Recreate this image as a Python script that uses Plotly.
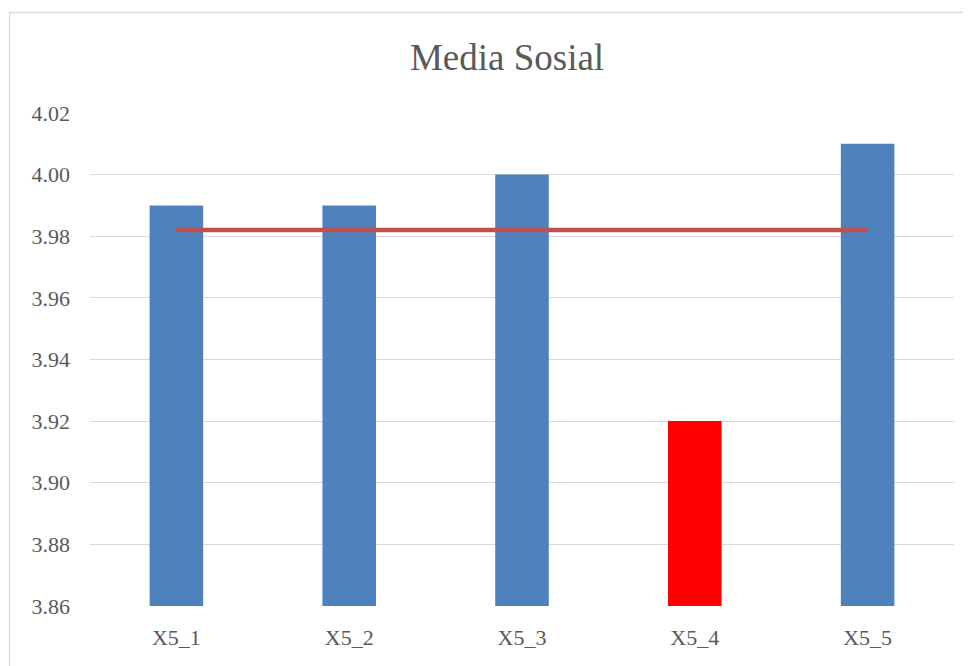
import plotly.graph_objects as go

categories = ["X5_1", "X5_2", "X5_3", "X5_4", "X5_5"]
values = [3.99, 3.99, 4.00, 3.92, 4.01]
bar_colors = ["#4F81BD", "#4F81BD", "#4F81BD", "#FF0000", "#4F81BD"]
mean_value = 3.982
y_ticks = [3.86, 3.88, 3.90, 3.92, 3.94, 3.96, 3.98, 4.00, 4.02]
title_text = "Media Sosial"

FONT = "Liberation Serif"
GRAY = "#595959"

fig = go.Figure()
fig.add_trace(go.Bar(x=categories, y=values, marker=dict(color=bar_colors, line=dict(width=0)),
                     showlegend=False, hoverinfo="x+y"))
fig.add_trace(go.Scatter(x=categories, y=[mean_value] * len(categories), mode="lines",
                         line=dict(color="#C0504D", width=4.5), showlegend=False))

OFF = 8  # page body margin
W, H = 971 - OFF, 666 - OFF
L, R, T, B = 90 - OFF, 17, 113 - OFF, 60
pw, ph = W - L - R, H - T - B

def px_x(px):
    return (px - OFF - L) / pw

def px_y(py):
    return (H - B - (py - OFF)) / ph

fig.update_layout(
    width=W, height=H,
    margin=dict(l=L, r=R, t=T, b=B),
    paper_bgcolor="white", plot_bgcolor="white",
    bargap=0.69,
    font=dict(family=FONT, color=GRAY),
    title=dict(text=title_text, x=(507 - OFF) / W, xanchor="center", y=1 - (57 - OFF) / H, yanchor="middle",
               font=dict(family=FONT, size=37, color=GRAY)),
    xaxis=dict(showgrid=False, showline=False, zeroline=False, ticks="",
               tickfont=dict(family=FONT, size=22, color=GRAY), ticklabelstandoff=16),
    yaxis=dict(range=[3.86, 4.02], tickvals=y_ticks, ticktext=[f"{v:.2f}" for v in y_ticks],
               showgrid=True, gridcolor="#D9D9D9", gridwidth=1.3, zeroline=False, showline=False,
               ticks="", tickfont=dict(family=FONT, size=22, color=GRAY), ticklabelstandoff=19),
    shapes=[dict(type="rect", xref="paper", yref="paper",
                 x0=px_x(9.5), x1=px_x(1100), y0=px_y(900), y1=px_y(12.5),
                 line=dict(color="#D9D9D9", width=1.3), fillcolor="rgba(0,0,0,0)", layer="below")],
)

fig.write_html("out.html")
